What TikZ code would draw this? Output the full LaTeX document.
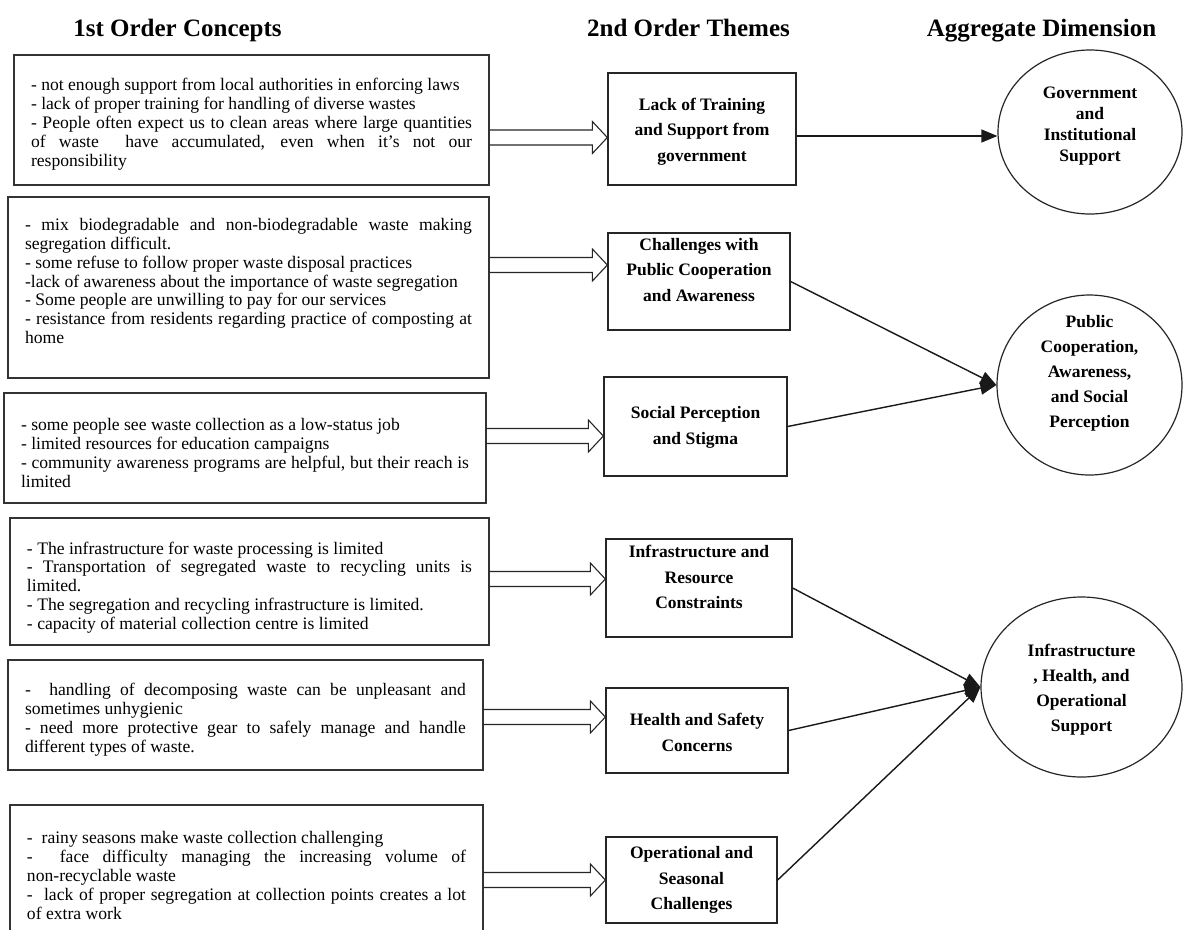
\documentclass[tikz,border=0pt]{standalone}
\usepackage{fontspec}
\setmainfont{Liberation Serif}
\usetikzlibrary{arrows.meta,calc,shapes.geometric}

% body text of the concept boxes: justified, no hyphenation
\newcommand\conceptfont{\fontsize{17.6}{18.9}\selectfont
  \hyphenpenalty=10000 \exhyphenpenalty=10000 \tolerance=9999 \relax}

% hollow double-line arrow from the east side of #1 to the west side of #2 at height #3
\newcommand\dblarrow[3]{%
  \coordinate (#1#2y) at (0,#3);
  \draw[hollowarrow]
    ($(#1.east |- #1#2y)+(0,7.5)$) -- ($(#2.west |- #1#2y)+(-15,7.5)$)
    -- ($(#2.west |- #1#2y)+(-15,16)$) -- (#2.west |- #1#2y)
    -- ($(#2.west |- #1#2y)+(-15,-16)$) -- ($(#2.west |- #1#2y)+(-15,-7.5)$)
    -- ($(#1.east |- #1#2y)+(0,-7.5)$);}

\begin{document}
\begin{tikzpicture}[x=1pt,y=-1pt,
  head/.style={inner sep=0pt, anchor=base, font=\fontsize{25}{30}\selectfont\bfseries},
  cbox/.style={draw=black!80, line width=1.3pt, rectangle, inner sep=0pt},
  ctext/.style={text width=#1, align=justify, inner sep=0pt, font=\conceptfont},
  tbox/.style={draw=black!85, line width=1.3pt, rectangle, inner sep=0pt},
  ttext/.style={align=center, inner sep=0pt, font=\fontsize{17.5}{25.5}\selectfont\bfseries},
  dim/.style={draw=black!85, line width=1.2pt, ellipse, inner sep=0pt},
  dtext/.style={align=center, inner sep=0pt, font=\fontsize{17.5}{#1}\selectfont\bfseries},
  hollowarrow/.style={draw=black!85, line width=1.1pt, line join=miter},
  link/.style={draw=black!90, line width=1.4pt, -{Triangle[length=16pt,width=13pt]}}]

\useasboundingbox (0,0) rectangle (1183,929);
\clip (0,0) rectangle (1183,929);
\fill[white] (0,0) rectangle (1183,929);

% column headings
\node[head] (h1) at (177.5,36) {1st Order Concepts};
\node[head] (h2) at (688.5,36) {2nd Order Themes};
\node[head] (h3) at (1041.5,36) {Aggregate Dimension};

% first-order concepts
\node[cbox, minimum width=475pt, minimum height=130pt] (b1) at (251.5,120) {};
\node[ctext=441pt] (b1t) at (251.5,124.5) {- not enough support from local authorities in enforcing laws\\
- lack of proper training for handling of diverse wastes\\
- People often expect us to clean areas where large quantities\linebreak
of waste \ have accumulated, even when it’s not our\linebreak
responsibility};

\node[cbox, minimum width=481pt, minimum height=181pt] (b2) at (248.5,287.5) {};
\node[ctext=447pt] (b2t) at (248.5,281) {- mix biodegradable and non-biodegradable waste making\linebreak
segregation difficult.\\
- some refuse to follow proper waste disposal practices\\
-lack of awareness about the importance of waste segregation\\
- Some people are unwilling to pay for our services\\
- resistance from residents regarding practice of composting at\linebreak
home};

\node[cbox, minimum width=482pt, minimum height=110pt] (b3) at (245,448) {};
\node[ctext=448pt] (b3t) at (245,453) {- some people see waste collection as a low-status job\\
- limited resources for education campaigns\\
- community awareness programs are helpful, but their reach is\linebreak
limited};

\node[cbox, minimum width=479pt, minimum height=127pt] (b4) at (249.5,581.5) {};
\node[ctext=445pt] (b4t) at (249.5,587.5) {- The infrastructure for waste processing is limited\\
- Transportation of segregated waste to recycling units is\linebreak
limited.\\
- The segregation and recycling infrastructure is limited.\\
- capacity of material collection centre is limited};

\node[cbox, minimum width=475pt, minimum height=110pt] (b5) at (245.5,715) {};
\node[ctext=441pt] (b5t) at (245.5,720) {- \ handling of decomposing waste can be unpleasant and\linebreak
sometimes unhygienic\\
- need more protective gear to safely manage and handle\linebreak
different types of waste.};

\node[cbox, minimum width=473pt, minimum height=160pt] (b6) at (246.5,885) {};
\node[ctext=439pt] (b6t) at (246.5,875.5) {- \ rainy seasons make waste collection challenging\\
- \ face difficulty managing the increasing volume of\linebreak
non-recyclable waste\\
- \ lack of proper segregation at collection points creates a lot\linebreak
of extra work};

% second-order themes
\node[tbox, minimum width=188pt, minimum height=112pt] (t1) at (702,129) {};
\node[ttext] (t1t) at (702,131.5) {Lack of Training\\and Support from\\government};

\node[tbox, minimum width=182pt, minimum height=97pt] (t2) at (699,281.5) {};
\node[ttext] (t2t) at (699,270) {Challenges with\\Public Cooperation\\and Awareness};

\node[tbox, minimum width=183pt, minimum height=99pt] (t3) at (695.5,426.5) {};
\node[ttext] (t3t) at (695.5,427.5) {Social Perception\\and Stigma};

\node[tbox, minimum width=186pt, minimum height=98pt] (t4) at (699,588) {};
\node[ttext] (t4t) at (699,577) {Infrastructure and\\Resource\\Constraints};

\node[tbox, minimum width=182pt, minimum height=85pt] (t5) at (697,730.5) {};
\node[ttext] (t5t) at (697,732.5) {Health and Safety\\Concerns};

\node[tbox, minimum width=171pt, minimum height=86pt] (t6) at (691.5,880) {};
\node[ttext] (t6t) at (691.5,880) {Operational and\\Seasonal\\Challenges};

% aggregate dimensions
\node[dim, minimum width=184pt, minimum height=164pt] (c1) at (1090,132) {};
\node[dtext=21] (c1t) at (1090,126.5) {Government\\and\\Institutional\\Support};

\node[dim, minimum width=185pt, minimum height=180pt] (c2) at (1089.5,385) {};
\node[dtext=25] (c2t) at (1089.5,373) {Public\\Cooperation,\\Awareness,\\and Social\\Perception};

\node[dim, minimum width=201pt, minimum height=180pt] (c3) at (1081.5,687) {};
\node[dtext=25] (c3t) at (1081.5,689.5) {Infrastructure\\, Health, and\\Operational\\Support};

% concepts feed themes
\dblarrow{b1}{t1}{137.5}
\dblarrow{b2}{t2}{265}
\dblarrow{b3}{t3}{436}
\dblarrow{b4}{t4}{579}
\dblarrow{b5}{t5}{717}
\dblarrow{b6}{t6}{880}

% themes feed dimensions
\coordinate (l1) at (0,136);
\draw[link] (t1.east |- l1) -- (c1.west |- l1);
\draw[link] (t2.east) -- (c2.west);
\draw[link] (t3.east) -- (c2.west);
\draw[link] (t4.east) -- (c3.west);
\draw[link] (t5.east) -- (c3.west);
\draw[link] (t6.east) -- (c3.west);
\end{tikzpicture}
\end{document}
